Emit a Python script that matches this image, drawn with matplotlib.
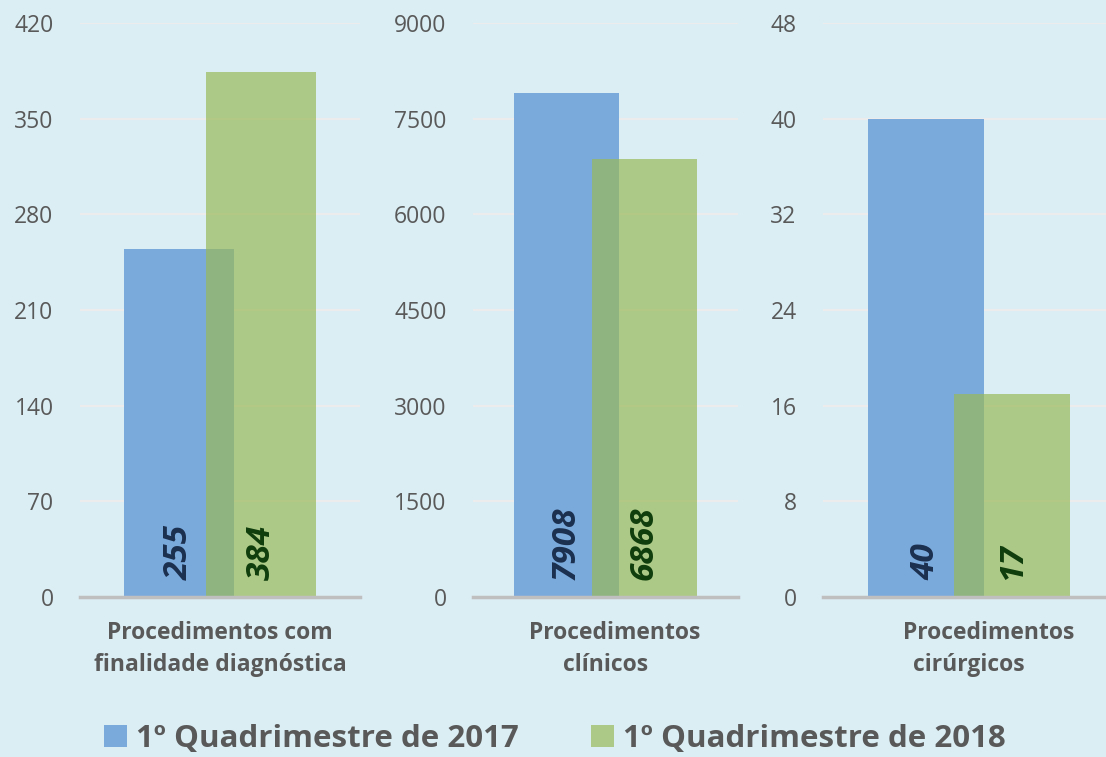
import matplotlib
matplotlib.use("Agg")
import matplotlib.pyplot as plt
from matplotlib.patches import Patch
from matplotlib.transforms import blended_transform_factory

# Data
categories = [
    ["Procedimentos com", "finalidade diagnóstica"],
    ["Procedimentos", "clínicos"],
    ["Procedimentos", "cirúrgicos"],
]
series_names = ["1º Quadrimestre de 2017", "1º Quadrimestre de 2018"]
values_2017 = [255, 7908, 40]
values_2018 = [384, 6868, 17]
y_max = [420, 9000, 48]
y_step = [70, 1500, 8]

# Styling
BG = "#dbeef4"
BLUE = "#7aa9dc"
GREEN = "#99b956"
GREEN_ALPHA = 0.69
LBL_BLUE = "#1b2f4e"
LBL_GREEN = "#0f3d0c"
TEXT = "#595959"
GRID = "#ececec"
BASE = "#bfbfbf"

plt.rcParams["font.family"] = ["Open Sans", "DejaVu Sans"]

W, H = 1106, 757
fig = plt.figure(figsize=(W / 100, H / 100), dpi=100, facecolor=BG)

# panel geometry in pixels: (left, right) of axes, and xlim in bar-width units
panels = [
    (80, 360, (-1.273, 1.273)),
    (473, 738, (-1.262, 1.262)),
    (823, 1106, (-1.259, 1.181)),
]
# horizontal placement of each category-label line (bar-width units from group centre)
label_x = [[0.0, 0.0], [0.088, 0.0], [0.168, 0.0]]
ax_top, ax_bot = 23, 597
offset = 0.372
width = 1.0

for i, (l, r, xl) in enumerate(panels):
    ax = fig.add_axes([l / W, 1 - ax_bot / H, (r - l) / W, (ax_bot - ax_top) / H])
    ax.set_facecolor("none")
    ax.bar(-offset, values_2017[i], width=width, color=BLUE, zorder=2)
    ax.bar(offset, values_2018[i], width=width, color=GREEN, alpha=GREEN_ALPHA, zorder=3)
    ax.set_xlim(*xl)
    ax.set_ylim(0, y_max[i])
    ax.set_yticks(range(0, y_max[i] + 1, y_step[i]))
    ax.set_xticks([])
    ax.tick_params(axis="y", length=0, pad=19, labelsize=16.5, labelcolor=TEXT)
    ax.grid(axis="y", color=GRID, linewidth=1.6, zorder=0)
    ax.set_axisbelow(True)
    for side in ["top", "right", "left"]:
        ax.spines[side].set_visible(False)
    ax.spines["bottom"].set_color(BASE)
    ax.spines["bottom"].set_linewidth(2.5)
    ax.spines["bottom"].set_zorder(4)

    # value labels, rotated, near the base of each bar
    for x, v, c in [(-offset, values_2017[i], LBL_BLUE), (offset, values_2018[i], LBL_GREEN)]:
        ax.annotate(str(v), xy=(x, 0), xytext=(0, 12), textcoords="offset points",
                    rotation=90, ha="center", va="bottom", fontsize=24,
                    fontweight="bold", fontstyle="italic", color=c, zorder=5)

    # category label, two lines
    trans = blended_transform_factory(ax.transData, ax.transAxes)
    for j, line in enumerate(categories[i]):
        yp = [633, 665][j]
        ax.text(label_x[i][j], (ax_bot - yp) / (ax_bot - ax_top), line, transform=trans,
                ha="center", va="center", fontsize=16.5, fontweight="bold", color=TEXT)

handles = [Patch(facecolor=BLUE), Patch(facecolor=GREEN, alpha=GREEN_ALPHA)]
leg = fig.legend(handles, series_names, loc="center", bbox_to_anchor=(555 / W, 1 - 739 / H),
                 ncol=2, frameon=False, fontsize=22.5, handlelength=0.74, handleheight=0.74,
                 handletextpad=0.3, columnspacing=2.3, borderpad=0)
for t in leg.get_texts():
    t.set_color(TEXT)
    t.set_fontweight("bold")

fig.savefig("out.png", dpi=100, facecolor=BG)
